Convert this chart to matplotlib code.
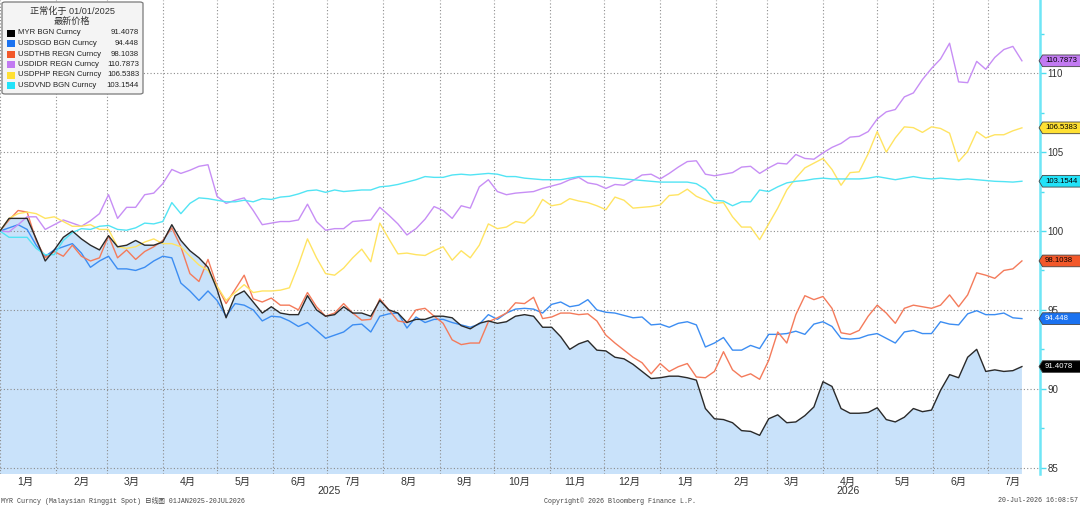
import matplotlib
matplotlib.use('Agg')
import matplotlib.pyplot as plt
import matplotlib.dates as mdates
from matplotlib.path import Path
from matplotlib.patches import FancyBboxPatch, Rectangle
from matplotlib.ticker import MultipleLocator, NullFormatter
import pandas as pd

# sample dates: every 5 days + last print
dates = list(pd.date_range('2025-01-01', '2026-07-15', freq='5D')) + [pd.Timestamp('2026-07-20')]

myr = [100.0, 100.8, 100.8, 100.8, 99.5, 98.1, 98.8, 99.6, 100.0, 99.5,
       99.1, 98.8, 99.7, 99.0, 99.1, 99.4, 99.1, 99.1, 99.3, 100.4,
       99.4, 98.75, 98.3, 97.7, 96.3, 94.5, 95.9, 96.2, 95.5, 94.8,
       95.2, 94.8, 94.7, 94.7, 95.9, 95.0, 94.6, 94.7, 95.2, 94.8,
       94.8, 94.6, 95.6, 95.0, 94.8, 94.2, 94.4, 94.4, 94.6, 94.6,
       94.5, 94.0, 93.8, 94.15, 94.3, 94.15, 94.25, 94.6, 94.7, 94.6,
       93.9, 93.9, 93.3, 92.5, 92.85, 93.05, 92.45, 92.4, 92.0, 91.9,
       91.55, 91.1, 90.65, 90.7, 90.8, 90.8, 90.7, 90.55, 88.75, 88.1,
       88.05, 87.85, 87.35, 87.3, 87.05, 88.1, 88.35, 87.85, 87.9, 88.3,
       88.85, 90.45, 90.15, 88.75, 88.45, 88.45, 88.5, 88.8, 88.05, 87.9,
       88.2, 88.75, 88.55, 88.65, 89.9, 90.9, 90.7, 92.0, 92.5, 91.1,
       91.2, 91.1, 91.15, 91.4078]

sgd = [100.0, 100.2, 100.4, 100.1, 99.1, 98.4, 98.8, 99.0, 99.2, 98.6,
       97.7, 98.1, 98.4, 97.6, 97.6, 97.5, 97.7, 98.1, 98.4, 98.3,
       96.7, 96.2, 95.6, 96.2, 95.6, 94.6, 95.4, 95.3, 95.0, 94.3,
       94.6, 94.55, 94.3, 93.95, 94.2, 93.7, 93.2, 93.4, 93.6, 94.05,
       94.1, 93.6, 94.6, 94.75, 94.8, 93.85, 94.55, 94.2, 94.4, 94.4,
       94.2, 94.05, 93.9, 94.1, 94.7, 94.4, 94.8, 95.05, 95.1, 95.05,
       94.8, 95.35, 95.5, 95.2, 95.3, 95.65, 95.0, 94.85, 94.8, 94.65,
       94.5, 94.55, 94.05, 94.1, 93.9, 94.15, 94.25, 94.05, 92.65, 92.9,
       93.25, 92.45, 92.45, 92.75, 92.55, 93.45, 93.45, 93.5, 93.65, 93.45,
       94.1, 94.25, 93.95, 93.2, 93.15, 93.2, 93.4, 93.5, 93.2, 92.9,
       93.6, 93.7, 93.5, 93.5, 94.25, 94.1, 94.05, 94.75, 94.95, 94.7,
       94.7, 94.8, 94.5, 94.448]

thb = [100.0, 100.7, 101.3, 101.2, 99.4, 98.3, 98.7, 98.4, 99.1, 98.4,
       98.1, 98.3, 99.7, 98.3, 98.8, 98.2, 98.7, 99.0, 99.4, 100.2,
       99.0, 97.3, 96.8, 98.2, 96.5, 95.4, 96.3, 97.2, 95.7, 95.5,
       95.75, 95.3, 95.3, 95.0, 96.1, 95.2, 94.6, 94.8, 95.4, 94.8,
       94.35, 94.4, 95.7, 95.0, 94.3, 94.2, 95.0, 95.1, 94.6, 94.15,
       93.1, 92.8, 92.9, 92.9, 94.25, 94.5, 94.8, 95.45, 95.4, 95.8,
       94.45, 94.55, 94.8, 94.8, 94.7, 94.75, 94.3, 93.4, 92.9, 92.45,
       92.0, 91.65, 90.95, 91.6, 91.1, 91.4, 91.6, 90.75, 90.7, 91.1,
       92.35, 91.2, 90.75, 90.95, 90.6, 91.8, 93.6, 92.9, 94.7, 95.9,
       95.65, 95.85, 95.1, 93.55, 93.45, 93.7, 94.6, 95.3, 94.8, 94.15,
       95.1, 95.3, 95.2, 95.1, 95.3, 95.95, 95.2, 95.95, 97.35, 97.2,
       97.0, 97.5, 97.6, 98.1038]

idr = [100.0, 99.95, 100.4, 100.9, 100.9, 100.1, 100.4, 100.7, 100.5, 100.3,
       100.65, 101.1, 102.3, 100.8, 101.5, 101.5, 102.3, 102.4, 103.0, 103.9,
       103.65, 103.85, 104.1, 104.2, 102.2, 101.75, 101.95, 102.1, 101.3, 100.4,
       100.5, 100.6, 100.6, 100.7, 101.7, 100.6, 100.05, 100.15, 100.15, 100.6,
       100.65, 100.7, 101.5, 101.0, 100.45, 99.75, 100.15, 100.75, 101.55, 101.3,
       100.8, 101.6, 101.45, 102.8, 103.25, 102.5, 102.3, 102.4, 102.45, 102.5,
       102.7, 102.85, 103.0, 103.25, 103.4, 103.05, 102.95, 102.7, 102.95, 102.9,
       103.2, 103.55, 103.6, 103.3, 103.65, 104.05, 104.4, 104.45, 103.6, 103.5,
       103.6, 103.7, 104.05, 104.1, 103.65, 104.0, 104.3, 104.25, 104.85, 104.6,
       104.55, 104.95, 105.3, 105.55, 105.95, 106.0, 106.3, 107.1, 107.55, 107.7,
       108.5, 108.75, 109.6, 110.3, 110.9, 111.9, 109.45, 109.4, 110.75, 110.25,
       111.0, 111.5, 111.7, 110.7873]

php = [100.0, 100.8, 101.1, 101.2, 101.1, 100.8, 100.9, 100.6, 100.3, 100.3,
       100.4, 100.1, 100.1, 99.0, 98.9, 99.0, 99.3, 99.5, 99.2, 99.2,
       99.0, 98.4, 97.85, 97.5, 96.5, 95.6, 96.1, 96.6, 96.1, 96.2,
       96.2, 96.25, 96.4, 97.85, 99.5, 98.3, 97.3, 97.2, 97.65, 98.3,
       98.85, 98.05, 100.5, 99.5, 98.55, 98.6, 98.5, 98.45, 98.75, 99.0,
       98.15, 98.75, 98.3, 99.1, 100.45, 100.15, 100.25, 100.6, 100.5, 101.0,
       102.0, 101.6, 101.7, 102.05, 101.9, 101.8, 101.6, 101.35, 102.15, 101.95,
       101.45, 101.5, 101.55, 101.65, 102.25, 102.3, 102.65, 102.2, 101.95, 101.75,
       101.8, 100.9, 100.25, 100.25, 99.45, 100.45, 101.45, 102.6, 103.35, 104.0,
       104.3, 104.6, 103.9, 102.9, 103.7, 103.75, 104.9, 106.3, 105.0, 105.9,
       106.6, 106.55, 106.25, 106.6, 106.5, 106.2, 104.4, 105.05, 106.3, 105.9,
       106.1, 106.1, 106.35, 106.5383]

vnd = [100.0, 99.6, 99.6, 99.6, 98.9, 98.5, 98.5, 99.4, 99.9, 100.15,
       100.1, 100.3, 100.35, 100.1, 100.05, 100.2, 100.5, 100.45, 100.6, 101.8,
       101.1, 101.75, 102.1, 102.05, 101.95, 101.85, 101.85, 101.95, 101.85, 102.05,
       102.0, 102.15, 102.2, 102.35, 102.55, 102.6, 102.45, 102.6, 102.5, 102.55,
       102.6, 102.6, 102.8, 102.85, 102.95, 103.1, 103.25, 103.45, 103.4, 103.4,
       103.55, 103.6, 103.55, 103.6, 103.65, 103.6, 103.45, 103.45, 103.35, 103.3,
       103.25, 103.25, 103.25, 103.35, 103.45, 103.45, 103.45, 103.4, 103.35, 103.3,
       103.25, 103.2, 103.15, 103.1, 103.1, 103.1, 103.1, 103.0, 102.65, 101.95,
       101.9, 101.6, 101.85, 101.85, 102.6, 102.5, 102.8, 103.05, 103.15, 103.2,
       103.3, 103.35, 103.3, 103.3, 103.3, 103.3, 103.35, 103.45, 103.35, 103.25,
       103.35, 103.45, 103.35, 103.3, 103.35, 103.3, 103.25, 103.3, 103.25, 103.2,
       103.15, 103.13, 103.1, 103.1544]

names = ['MYR BGN Curncy', 'USDSGD BGN Curncy', 'USDTHB REGN Curncy',
         'USDIDR REGN Curncy', 'USDPHP REGN Curncy', 'USDVND BGN Curncy']
last_txt = ['91.4078', '94.448', '98.1038', '110.7873', '106.5383', '103.1544']
series = [myr, sgd, thb, idr, php, vnd]

line_cols = ['#2a2a2a', '#3c8df2', '#f47b5b', '#c78ef5', '#ffe462', '#52e4f4']
box_cols = ['#000000', '#1a72f0', '#f2582a', '#c27af2', '#ffe033', '#22e2f8']
txt_cols = ['white', 'white', 'black', 'black', 'black', 'black']

months = pd.date_range('2025-01-01', '2026-07-01', freq='MS') + pd.Timedelta(days=14)
month_lbls = [f'{d.month}月' for d in months]

plt.rcParams['font.family'] = ['Liberation Sans', 'Noto Sans CJK SC']

fig = plt.figure(figsize=(10.8, 5.07), dpi=100)
ax = fig.add_axes([0, 1 - 474 / 507, 1040 / 1080, 474 / 507])

ax.fill_between(dates, myr, 0, color='#c9e2fa', lw=0, zorder=0.3)
for vals, c in zip(series[1:], line_cols[1:]):
    ax.plot(dates, vals, color=c, lw=1.0, zorder=2)
ax.plot(dates, myr, color=line_cols[0], lw=1.0, zorder=2.2)

ax.set_xlim(pd.Timestamp('2025-01-01'), pd.Timestamp('2026-07-30'))
ax.set_ylim(84.6, 114.64)

# axes cosmetics
for s in ['left', 'top', 'bottom']:
    ax.spines[s].set_visible(False)
ax.spines['right'].set_color('#6fe6f6')
ax.spines['right'].set_linewidth(1.8)

ax.yaxis.tick_right()
ax.yaxis.set_major_locator(MultipleLocator(5))
ax.yaxis.set_minor_locator(MultipleLocator(2.5))
ax.tick_params(axis='y', which='major', direction='out', length=4, width=1,
               color='#4fdcef', labelcolor='#333333', labelsize=7, pad=1.5)
ax.tick_params(axis='y', which='minor', direction='out', length=3, width=1, color='#4fdcef')

ax.xaxis.set_major_locator(mdates.MonthLocator())
ax.xaxis.set_major_formatter(NullFormatter())
ax.set_xticks(months, month_lbls, minor=True)
ax.tick_params(axis='x', which='major', length=0)
ax.tick_params(axis='x', which='minor', length=0, pad=2, labelsize=7.5, labelcolor='#333333')

ax.set_axisbelow(True)
ax.grid(True, which='major', ls=(0, (1, 2)), color='#8c8c8c', lw=0.8)

# year labels
ax.annotate('2025', xy=(pd.Timestamp('2025-07-02'), 0), xycoords=('data', 'axes fraction'),
            xytext=(0, -9), textcoords='offset points', ha='center', va='top',
            fontsize=7.5, color='#333333', annotation_clip=False)
ax.annotate('2026', xy=(pd.Timestamp('2026-04-15'), 0), xycoords=('data', 'axes fraction'),
            xytext=(0, -9), textcoords='offset points', ha='center', va='top',
            fontsize=7.5, color='#333333', annotation_clip=False)


def tag_shape(x0, y0, width, height, mutation_size):
    pad = 0.3 * mutation_size
    x0, y0 = x0 - pad, y0 - pad
    y1 = y0 + height + 2 * pad
    x1 = max(x0 + width + 2 * pad, fig.bbox.x1 + 2)
    tip = 0.3 * (y1 - y0)
    ym = (y0 + y1) / 2
    return Path([(x0 - tip, ym), (x0, y0), (x1, y0), (x1, y1), (x0, y1), (x0 - tip, ym)], closed=True)


for vals, t, bc, tc in zip(series, last_txt, box_cols, txt_cols):
    ax.annotate(t, xy=(1, vals[-1]), xycoords=('axes fraction', 'data'),
                xytext=(3.5, 0), textcoords='offset points', ha='left', va='center',
                fontsize=5.6, color=tc, annotation_clip=False, zorder=6,
                bbox=dict(boxstyle=tag_shape, fc=bc, ec='#444444', lw=0.6))

# legend box (figure pixel coords)
W, H = 1080, 507


def fx(x):
    return x / W


def fy(y):
    return 1 - y / H


leg = FancyBboxPatch((fx(2), fy(94)), fx(141), 92 / H, transform=fig.transFigure,
                     boxstyle='round,pad=0,rounding_size=0.003', fc='#f4f4f4',
                     ec='#7a7a7a', lw=0.9, zorder=5)
fig.add_artist(leg)
fig.text(fx(72), fy(11), '正常化于 01/01/2025', ha='center', va='center',
         fontsize=6.6, color='#333333', zorder=6)
fig.text(fx(72), fy(21.5), '最新价格', ha='center', va='center',
         fontsize=6.6, color='#333333', zorder=6)
for i, (n, t, bc) in enumerate(zip(names, last_txt, box_cols)):
    yy = 33 + i * 10.5
    fig.add_artist(Rectangle((fx(7), fy(yy + 3.5)), fx(8), 7 / H, transform=fig.transFigure,
                             fc=bc, ec='none', zorder=6))
    fig.text(fx(18), fy(yy), n, ha='left', va='center', fontsize=5.6,
             color='#222222', zorder=6)
    fig.text(fx(139), fy(yy), t, ha='right', va='center', fontsize=5.6,
             color='#222222', zorder=6)

# footer
foot = ['Liberation Mono', 'Noto Sans CJK SC']
fig.text(fx(1), fy(501), 'MYR Curncy (Malaysian Ringgit Spot) 日线图 01JAN2025-20JUL2026',
         ha='left', va='center', fontsize=4.8, color='#444444', family=foot)
fig.text(fx(620), fy(501), 'Copyright© 2026 Bloomberg Finance L.P.',
         ha='center', va='center', fontsize=4.8, color='#444444', family=foot)
fig.text(fx(1078), fy(501), '20-Jul-2026 16:08:57',
         ha='right', va='center', fontsize=4.8, color='#444444', family=foot)

fig.savefig('out.png', dpi=100)
